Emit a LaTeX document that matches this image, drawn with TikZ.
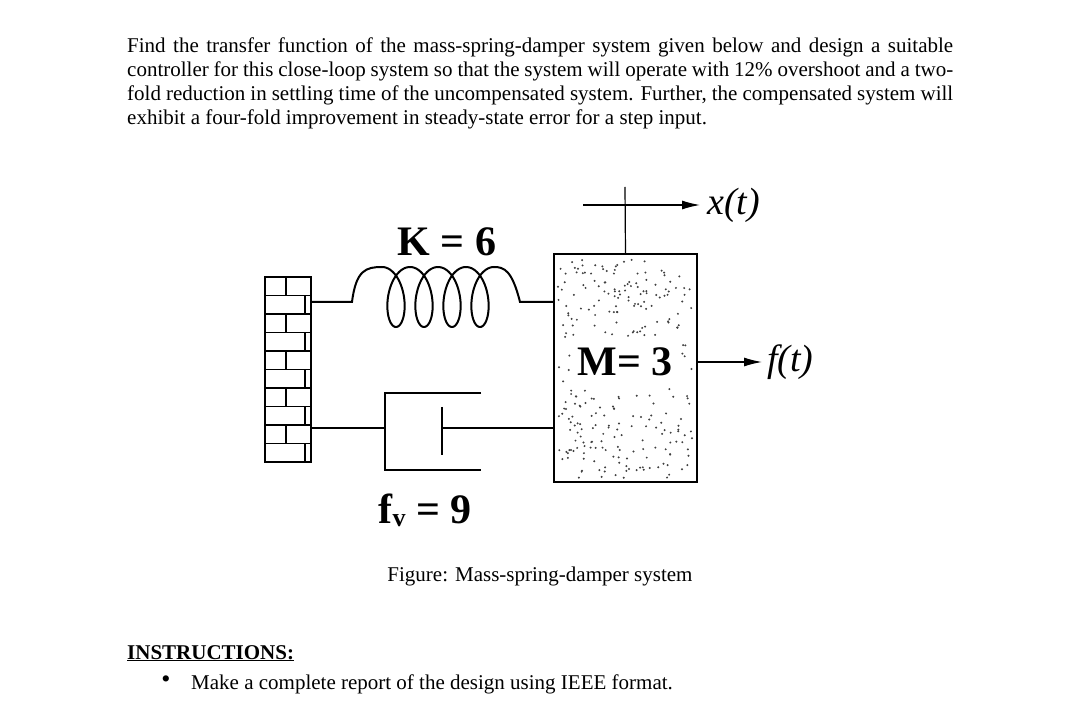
\documentclass[tikz,border=0pt]{standalone}
\usepackage{fontspec}
\setmainfont{Liberation Serif}
\usetikzlibrary{arrows.meta}
\begin{document}
\begin{tikzpicture}[x=1pt,y=-1pt,
  txt/.style={anchor=base west,inner sep=0,font=\fontsize{21}{24}\selectfont},
  big/.style={inner sep=0,font=\fontsize{42}{46}\selectfont\bfseries},
  ln/.style={line width=1.2pt},
  arr/.style={ln,-{Latex[length=18pt,width=9pt]}}]
\useasboundingbox (0,0) rectangle (1080,703);
\fill[white] (0,0) rectangle (1080,703);
% paragraph
\node[txt] (l1) at (127,53) {\makebox[826pt][s]{Find the transfer function of the mass-spring-damper system given below and design a suitable}};
\node[txt] (l2) at (127,77) {\makebox[826pt][s]{controller for this close-loop system so that the system will operate with 12\% overshoot and a two-}};
\node[txt] (l3) at (127,101) {\makebox[826pt][s]{fold reduction in settling time of the uncompensated system. Further, the compensated system will}};
\node[txt] (l4) at (127,125) {exhibit a four-fold improvement in steady-state error for a step input.};
% wall
\draw[ln] (265,277) rectangle (311,462);
\foreach \k in {1,...,9} {\draw[ln] (265,277+\k*18.5) -- (311,277+\k*18.5);}
\foreach \k in {0,2,...,8} {\draw[ln] (286,277+\k*18.5) -- (286,277+\k*18.5+18.5);}
\foreach \k in {1,3,...,9} {\draw[ln] (305,277+\k*18.5) -- (305,277+\k*18.5+18.5);}
\coordinate (wk) at (311,302);
\coordinate (wd) at (311,428);
% mass
\node[draw,ln,minimum width=143pt,minimum height=228pt,inner sep=0] (m) at (625.5,368) {};
\pgfmathsetseed{7}
\foreach \i in {1,...,330}{
  \pgfmathsetmacro{\px}{558+rnd*135}
  \pgfmathsetmacro{\py}{258+rnd*220}
  \pgfmathparse{(\px>572 && \px<682 && \py>338 && \py<388) ? 0 : 1}
  \ifnum\pgfmathresult=1 \fill[black!75] (\px,\py) circle (1.1);\fi
}
\node[big,fill=white,inner sep=2pt] (ml) at (625,362) {M= 3};
% spring
\draw[line width=2pt] (wk) -- (352,302) .. controls (356,270) and (366,267) .. (382,267)
  plot[domain=0:25.1327,samples=240,smooth] ({382+28/6.2832*\x+15*sin(\x r)},{297-30*cos(\x r)})
  .. controls (504,267) and (512,270) .. (520,302) -- (m.west |- 0,302);
\node[big] (K) at (447,242) {K = 6};
% damper
\draw[ln] (wd) -- (385,428);
\draw[ln] (481,393) -- (385,393) -- (385,470) -- (481,470);
\draw[ln] (442,407) -- (442,455);
\draw[ln] (442,428) -- (m.west |- 0,428);
\node[big] (fv) at (425,510) {f\raisebox{-3pt}{\fontsize{26}{26}\selectfont v} = 9};
% x(t)
\coordinate (rt) at (625,187);
\draw[ln] (m.north) -- (rt);
\coordinate (xs) at (583,205);
\coordinate (xe) at (700,205);
\draw[arr] (xs) -- (xe);
\node[inner sep=0,font=\fontsize{38}{40}\selectfont\itshape,anchor=west] (xl) at (707,205) {x(t)};
% f(t)
\coordinate (fe) at (762,362);
\draw[arr] (m.east |- 0,362) -- (fe);
\node[inner sep=0,font=\fontsize{38}{40}\selectfont\itshape,anchor=west] (fl) at (767,362) {f(t)};
% caption
\node[inner sep=0,font=\fontsize{21}{24}\selectfont] (cap) at (540,576) {Figure: Mass-spring-damper system};
% instructions
\node[txt] (ins) at (127,659) {\textbf{\underline{INSTRUCTIONS:}}};
\node[inner sep=0] (bul) at (166,682) {\fontsize{26}{24}\selectfont\textbullet};
\node[txt] (b1) at (191,689) {Make a complete report of the design using IEEE format.};
\end{tikzpicture}
\end{document}
